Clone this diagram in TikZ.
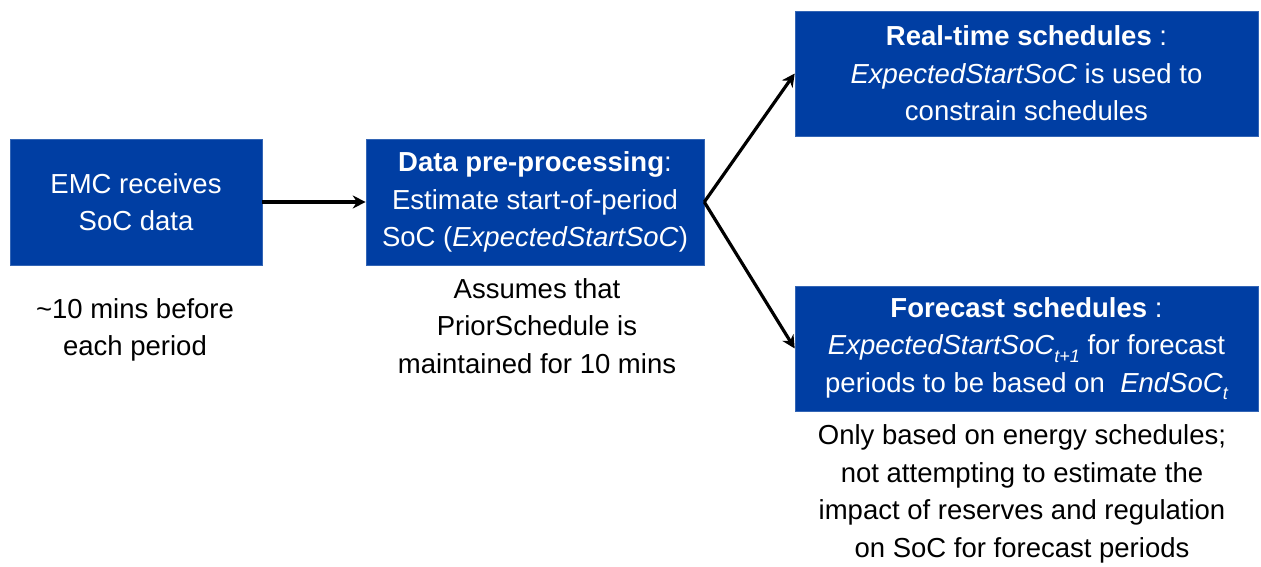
\documentclass[tikz,border=0pt]{standalone}
\usepackage{fontspec}
\setmainfont{Liberation Sans}
\usetikzlibrary{arrows.meta}
\definecolor{boxblue}{RGB}{0,62,163}
\newcommand\mysub[1]{\raisebox{-0.28em}{\fontsize{18}{18}\selectfont\itshape #1}}
\tikzset{
  box/.style={rectangle, fill=boxblue, draw=boxblue!80!white, line width=0.6pt, text=white, align=center, inner sep=0pt,
    font=\fontsize{27.5}{37.5}\selectfont},
  note/.style={align=center, inner sep=0pt, text=black, font=\fontsize{27.5}{37.5}\selectfont},
  conn/.style={line width=3.2pt, -{Stealth[length=13pt,width=13pt]}}
}
\begin{document}
\begin{tikzpicture}[x=1pt,y=-1pt]
\useasboundingbox (0,0) rectangle (1261,567);
\node[box, minimum width=252pt, minimum height=126pt] (a) at (136,202) {EMC receives\\SoC data};
\node[box, minimum width=338pt, minimum height=126pt] (b) at (535,202) {\textbf{Data pre-processing}:\\Estimate start-of-period\\SoC (\textit{ExpectedStartSoC})};
\node[box, minimum width=463pt, minimum height=125pt] (c) at (1026.5,73.5) {\textbf{Real-time schedules} :\\\textit{ExpectedStartSoC} is used to\\constrain schedules};
\node[box, minimum width=463pt, minimum height=125pt] (d) at (1026.5,348.5) {\textbf{Forecast schedules} :\\\textit{ExpectedStartSoC}\mysub{t+1} for forecast\\periods to be based on \ \textit{EndSoC}\mysub{t}};
\node[note] (na) at (135,330) {\textasciitilde10 mins before\\each period};
\node[note] (nb) at (537,326) {Assumes that\\PriorSchedule is\\maintained for 10 mins};
\node[note] (nd) at (1022,494) {Only based on energy schedules;\\not attempting to estimate the\\impact of reserves and regulation\\on SoC for forecast periods};
\draw[conn] (a.east) -- (b.west);
\draw[conn] (b.east) -- (c.west);
\draw[conn] (b.east) -- (d.west);
\end{tikzpicture}
\end{document}
